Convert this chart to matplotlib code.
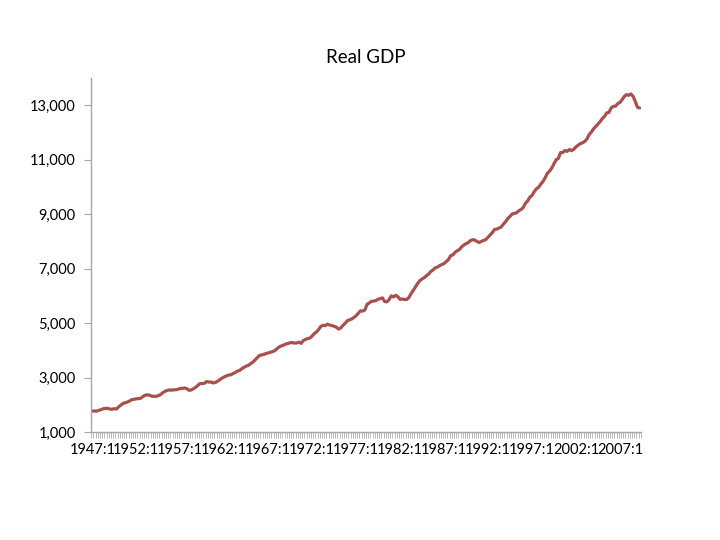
import matplotlib
matplotlib.use("Agg")
import matplotlib.pyplot as plt
from matplotlib.ticker import FuncFormatter

plt.rcParams['font.family'] = ['Lato', 'DejaVu Sans']

# real GDP, quarterly, 1947:1 - 2009:2 (billions of chained dollars)
first_year = 1947
gdp = [
    1771, 1768, 1767, 1793,   # 1947
    1822, 1855, 1865, 1868,   # 1948
    1842, 1836, 1855, 1848,   # 1949
    1925, 1985, 2050, 2079,   # 1950
    2100, 2140, 2190, 2200,   # 1951
    2220, 2225, 2240, 2300,   # 1952
    2350, 2365, 2350, 2320,   # 1953
    2310, 2310, 2335, 2372,   # 1954
    2440, 2490, 2525, 2545,   # 1955
    2535, 2550, 2550, 2570,   # 1956
    2598, 2600, 2620, 2590,   # 1957
    2530, 2545, 2590, 2640,   # 1958
    2710, 2780, 2780, 2790,   # 1959
    2850, 2835, 2835, 2800,   # 1960
    2820, 2865, 2920, 2980,   # 1961
    3020, 3060, 3090, 3100,   # 1962
    3145, 3185, 3235, 3260,   # 1963
    3325, 3375, 3420, 3445,   # 1964
    3510, 3565, 3640, 3725,   # 1965
    3810, 3830, 3850, 3880,   # 1966
    3905, 3925, 3955, 3985,   # 1967
    4060, 4125, 4160, 4190,   # 1968
    4230, 4250, 4280, 4280,   # 1969
    4265, 4270, 4300, 4255,   # 1970
    4360, 4400, 4430, 4450,   # 1971
    4525, 4615, 4675, 4770,   # 1972
    4880, 4920, 4905, 4960,   # 1973
    4925, 4910, 4880, 4850,   # 1974
    4780, 4820, 4915, 4990,   # 1975
    5085, 5120, 5150, 5205,   # 1976
    5270, 5360, 5450, 5440,   # 1977
    5480, 5690, 5740, 5800,   # 1978
    5810, 5825, 5875, 5900,   # 1979
    5925, 5790, 5780, 5860,   # 1980
    6000, 5960, 6020, 5968,   # 1981
    5870, 5885, 5865, 5865,   # 1982
    5935, 6080, 6200, 6330,   # 1983
    6455, 6560, 6620, 6670,   # 1984
    6740, 6800, 6895, 6950,   # 1985
    7030, 7055, 7110, 7150,   # 1986
    7185, 7260, 7330, 7475,   # 1987
    7505, 7600, 7655, 7700,   # 1988
    7800, 7865, 7915, 7955,   # 1989
    8030, 8060, 8050, 7995,   # 1990
    7960, 8000, 8035, 8065,   # 1991
    8150, 8235, 8325, 8440,   # 1992
    8450, 8490, 8525, 8635,   # 1993
    8720, 8840, 8915, 9005,   # 1994
    9030, 9050, 9125, 9170,   # 1995
    9240, 9395, 9480, 9620,   # 1996
    9685, 9820, 9930, 9985,   # 1997
    10100, 10200, 10335, 10500,  # 1998
    10580, 10690, 10850, 11000,  # 1999
    11045, 11260, 11265, 11335,  # 2000
    11305, 11375, 11330, 11380,  # 2001
    11470, 11530, 11590, 11620,  # 2002
    11670, 11760, 11920, 12015,  # 2003
    12130, 12220, 12310, 12395,  # 2004
    12510, 12590, 12720, 12735,  # 2005
    12895, 12960, 12965, 13060,  # 2006
    13100, 13205, 13320, 13390,  # 2007
    13365, 13415, 13325, 13140,  # 2008
    12925, 12900,                # 2009
]
label_years = [1947, 1952, 1957, 1962, 1967, 1972, 1977, 1982, 1987, 1992, 1997, 2002, 2007]
y_ticks = [1000, 3000, 5000, 7000, 9000, 11000, 13000]

fig = plt.figure(figsize=(7.2, 5.4), dpi=100)
ax = fig.add_axes([91 / 720, 108 / 540, 550 / 720, 354 / 540])

x = list(range(len(gdp)))
ax.plot(x, gdp, color='#A9504F', lw=2.3, solid_capstyle='round')

ax.set_xlim(-0.6, len(gdp) - 0.4)
ax.set_ylim(1000, 14000)
ax.set_yticks(y_ticks)
ax.yaxis.set_major_formatter(FuncFormatter(lambda v, p: f'{int(v):,}'))

ax.set_xticks([(yr - first_year) * 4 for yr in label_years])
ax.set_xticklabels([f'{yr}:1' for yr in label_years])
ax.set_xticks([i - 0.5 for i in range(len(gdp) + 1)], minor=True)

for s in ['top', 'right']:
    ax.spines[s].set_visible(False)
for s in ['left', 'bottom']:
    ax.spines[s].set_color('#A6A6A6')
    ax.spines[s].set_linewidth(1.0)

ax.tick_params(axis='y', length=5, color='#A6A6A6', labelsize=10.5, pad=6)
ax.tick_params(axis='x', which='major', length=0, labelsize=10.5, pad=8)
ax.tick_params(axis='x', which='minor', length=4, color='#B0B0B0', width=0.6)

ax.set_title('Real GDP', fontsize=13.5, pad=11)

fig.savefig('out.png', dpi=100)
